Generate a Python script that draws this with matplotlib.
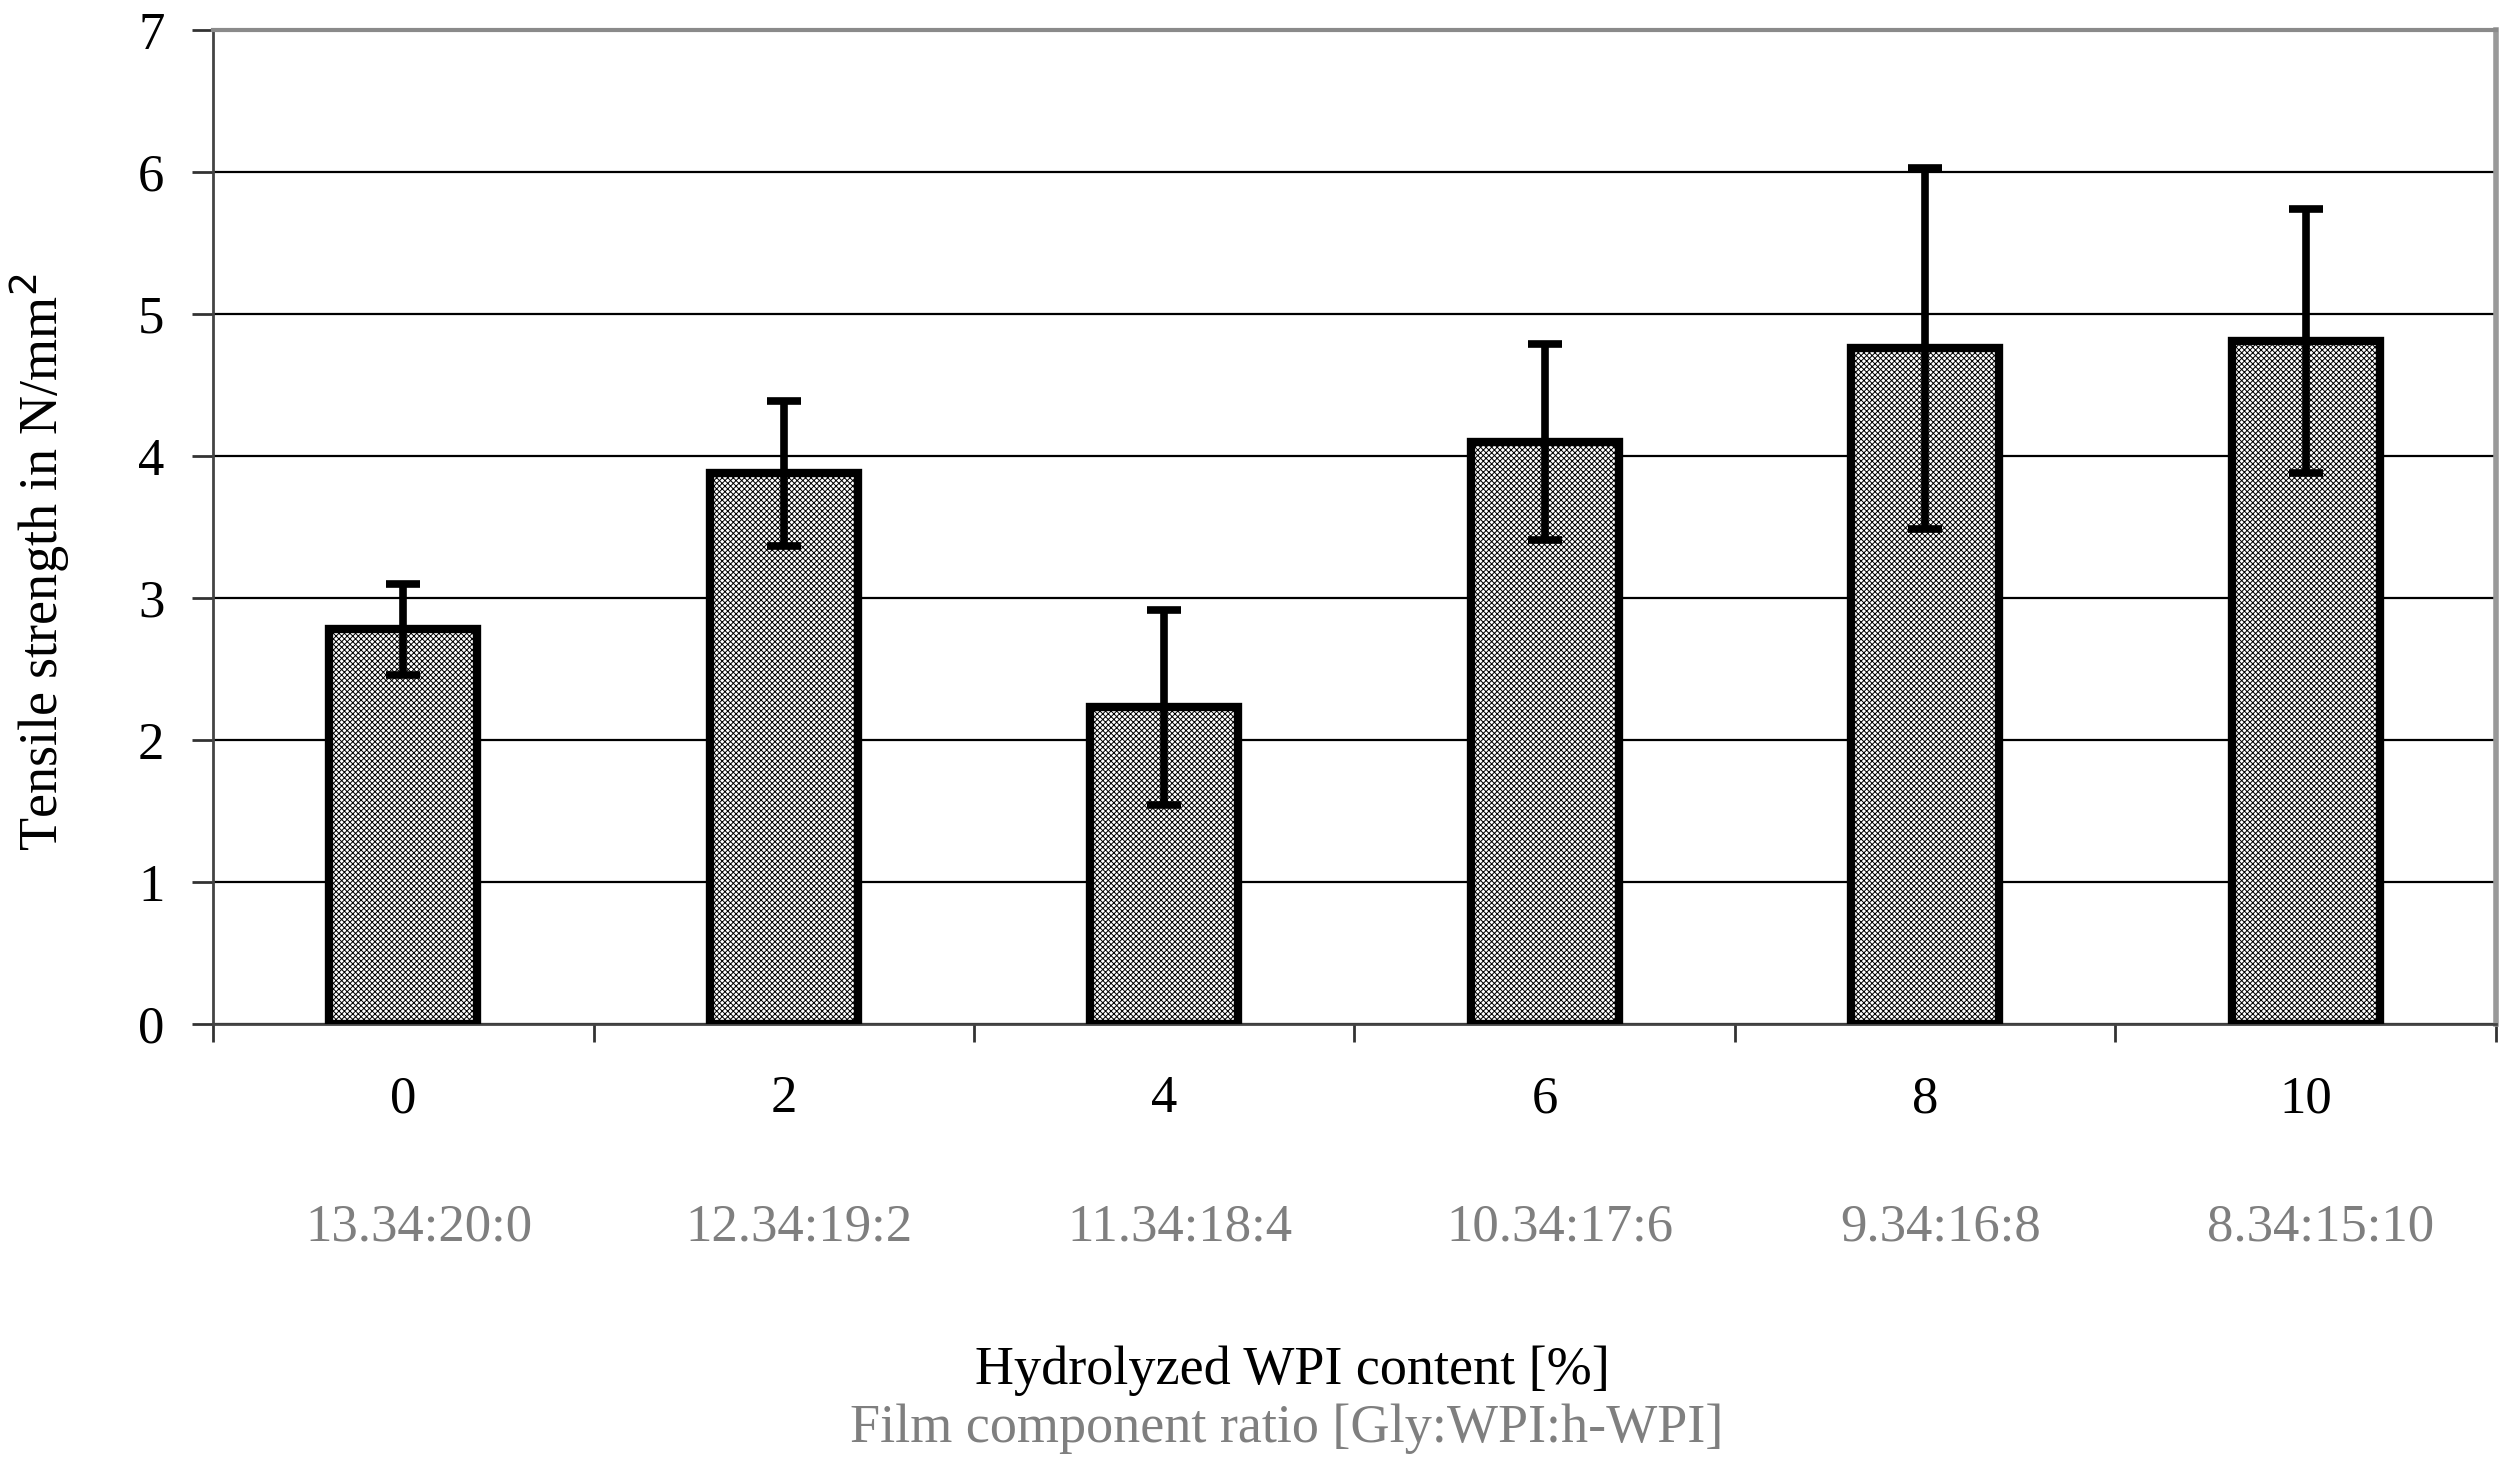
import matplotlib.pyplot as plt
import matplotlib.transforms as mtransforms
import numpy as np

# Werte
hwpi_content = ["0", "2", "4", "6", "8", "10"]
ratio_labels = ["13.34:20:0", "12.34:19:2", "11.34:18:4", "10.34:17:6", "9.34:16:8", "8.34:15:10"]
tensile_strength = [2.78, 3.88, 2.23, 4.10, 4.76, 4.81]
std_dev = [0.32, 0.51, 0.69, 0.69, 1.27, 0.93]

plt.rcParams['font.family'] = ['Liberation Serif', 'DejaVu Serif']
plt.rcParams['hatch.linewidth'] = 0.7
plt.rcParams['hatch.color'] = 'black'

fig = plt.figure(figsize=(25.09, 14.77), dpi=100)
ax = fig.add_axes([0.0849, 0.3067, 0.9099, 0.6727])

x = np.arange(len(hwpi_content))
ax.bar(x, tensile_strength, width=0.39, color='white', edgecolor='black',
       linewidth=6, hatch='xxxxxx', zorder=3)
ax.errorbar(x, tensile_strength, yerr=std_dev, fmt='none', ecolor='black',
            elinewidth=5.5, capsize=12, capthick=5.5, zorder=4)

ax.set_xlim(-0.5, 5.5)
ax.set_ylim(0, 7)
ax.set_yticks(range(0, 8))
ax.yaxis.grid(True, color='black', linewidth=1.6, zorder=1)
ax.set_axisbelow(True)

# Tickmarks zwischen den Kategorien, Beschriftung in der Mitte
ax.set_xticks(np.arange(-0.5, 6, 1))
ax.set_xticklabels([])
ax.set_xticks(x, minor=True)
ax.set_xticklabels(hwpi_content, minor=True)
ax.tick_params(axis='x', which='major', direction='out', length=13, width=2, color='#333333')
ax.tick_params(axis='x', which='minor', length=0, pad=37, labelsize=38)
ax.tick_params(axis='y', direction='out', length=15, width=2, color='#333333', pad=20, labelsize=38)

for side in ['left', 'bottom']:
    ax.spines[side].set_color('#444444')
    ax.spines[side].set_linewidth(2)
ax.spines['top'].set_color('#8a8a8a')
ax.spines['top'].set_linewidth(3)
ax.spines['right'].set_color('#999999')
ax.spines['right'].set_linewidth(4)

trans = mtransforms.blended_transform_factory(ax.transData, fig.transFigure)
for xi, lab in zip(x, ratio_labels):
    ax.text(xi + 0.04, 0.169, lab, transform=trans,
            ha='center', va='center', fontsize=38, color='#7f7f7f')

fig.text(0.515, 0.0716, "Hydrolyzed WPI content [%]", ha='center', va='center', fontsize=39, color='black')
fig.text(0.513, 0.0327, "Film component ratio [Gly:WPI:h-WPI]", ha='center', va='center', fontsize=39, color='#7f7f7f')
fig.text(0.016, 0.619, "Tensile strength in N/mm$^2$", rotation=90, ha='center', va='center',
         fontsize=39, color='black')

fig.savefig("out.png", dpi=100)
